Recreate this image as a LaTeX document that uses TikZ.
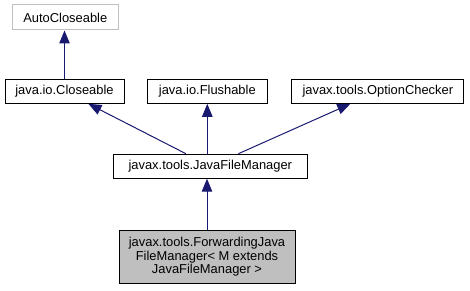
\documentclass[tikz,border=0pt]{standalone}
\usepackage{fontspec}
\setmainfont{Liberation Sans}
\usetikzlibrary{arrows.meta}

\definecolor{edgeblue}{RGB}{25,25,112}
\definecolor{boxgray}{RGB}{191,191,191}

\begin{document}
\begin{tikzpicture}[x=1pt, y=-1pt, >={Triangle[length=13pt, width=10.5pt]},
  font=\fontsize{12.9}{13.4}\selectfont,
  cls/.style={draw=black, line width=1pt, fill=white, minimum height=23.5pt, inner sep=0pt},
  inherit/.style={->, edgeblue, line width=1pt}]
  \useasboundingbox (0,0) rectangle (470,291);

  % Root interface (outside the documented set, grey frame)
  \node[cls, draw=boxgray, minimum width=106pt, minimum height=25pt] (autoclose) at (65.3,17.5) {AutoCloseable};

  % Superinterfaces of the file manager
  \node[cls, minimum width=119pt] (closeable) at (64.5,91.6) {java.io.Closeable};
  \node[cls, minimum width=120pt] (flushable) at (207.3,91.6) {java.io.Flushable};
  \node[cls, minimum width=172pt] (optcheck) at (377.8,91.6) {javax.tools.OptionChecker};

  % File manager interface
  \node[cls, minimum width=194pt, minimum height=24pt] (jfm) at (210.3,166.2) {javax.tools.JavaFileManager};

  % Documented class, shaded
  \node[cls, fill=boxgray, minimum width=176pt, minimum height=53pt, align=center] (fwd) at (207,256.7)
    {javax.tools.ForwardingJava\\FileManager< M extends \\ JavaFileManager >};

  % Inheritance edges
  \draw[inherit] (closeable.north) -- (closeable.north |- autoclose.south);
  \draw[inherit] (jfm) -- (closeable);
  \draw[inherit] (jfm.north -| flushable.south) -- (flushable.south);
  \draw[inherit] (jfm) -- (optcheck);
  \draw[inherit] (fwd.north) -- (fwd.north |- jfm.south);
\end{tikzpicture}
\end{document}
